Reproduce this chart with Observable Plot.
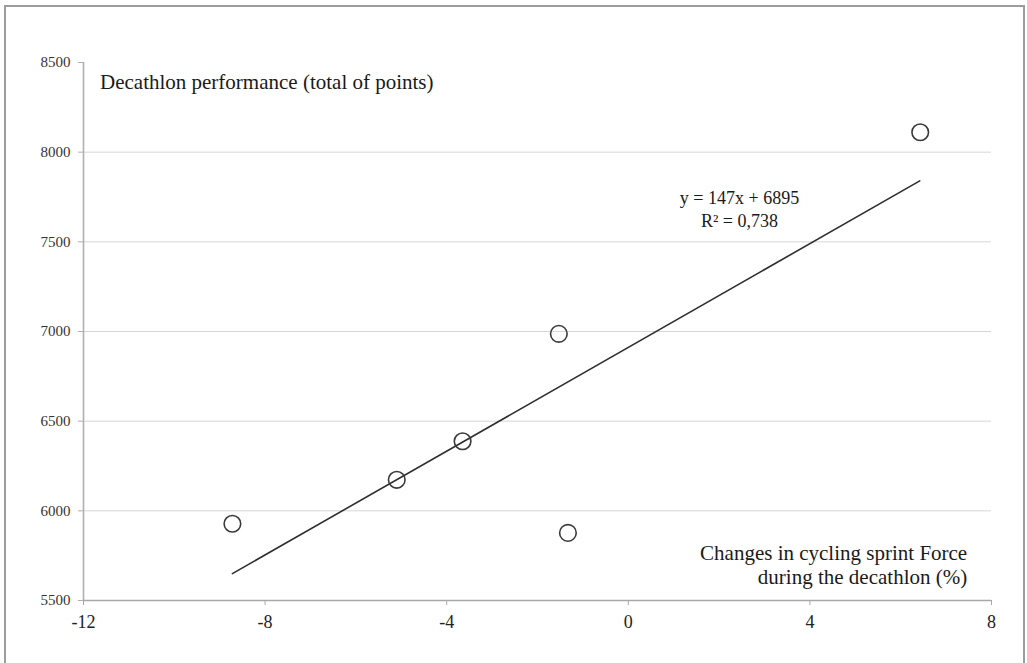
<!DOCTYPE html>
<html>
<head>
<meta charset="utf-8">
<script src="https://cdn.jsdelivr.net/npm/d3@7"></script>
<script src="https://cdn.jsdelivr.net/npm/@observablehq/plot@0.6"></script>
<style>
  html, body { margin: 0; padding: 0; background: #fff; overflow: hidden; width: 1027px; height: 663px; }
  #frame { position: absolute; left: 4px; top: 5px; width: 1021px; height: 700px; box-sizing: border-box; border: 2.5px solid #9c9c9c; }
  #chart { position: absolute; left: 0; top: 0; }
</style>
</head>
<body>
<div id="frame"></div>
<div id="chart"></div>
<script>
// Data
const changePct   = [-8.72, -5.10, -3.65, -1.53, -1.33, 6.43];
const decathlonPts = [5928, 6173, 6388, 6987, 5877, 8111];
// Trend line end points (as drawn)
const trendX = [-8.72, 6.42];
const trendY = [5650, 7840];
const xTicks = [-12, -8, -4, 0, 4, 8];
const yTicks = [5500, 6000, 6500, 7000, 7500, 8000, 8500];
const gridTicks = [6000, 6500, 7000, 7500, 8000];
const yTitle = "Decathlon performance (total of points)";
const xTitle = "Changes in cycling sprint Force\nduring the decathlon (%)";
const equation = "y = 147x + 6895\nR² = 0,738";

const points = changePct.map((x, i) => ({x, y: decathlonPts[i]}));
const trend = trendX.map((x, i) => ({x, y: trendY[i]}));

const serif = "'Liberation Serif', 'Times New Roman', serif";

const chart = Plot.plot({
  width: 1027,
  height: 663,
  marginLeft: 83,
  marginRight: 36,
  marginTop: 62,
  marginBottom: 63,
  style: { fontFamily: serif, background: "transparent" },
  x: { domain: [-12, 8] },
  y: { domain: [5500, 8500] },
  marks: [
    Plot.gridY(gridTicks, { stroke: "#d6d6d6", strokeOpacity: 1, strokeWidth: 1 }),
    Plot.ruleX([-12], { stroke: "#b0b0b0", strokeWidth: 1.6 }),
    Plot.ruleY([5500], { stroke: "#a8a8a8", strokeWidth: 1.6 }),
    Plot.axisY({
      ticks: yTicks, tickSize: 5, tickPadding: 8, label: null,
      stroke: "#b0b0b0", fill: "#333", fontSize: 15, fontFamily: serif,
      tickFormat: d => String(d)
    }),
    Plot.axisX({
      ticks: xTicks, tickSize: 5, tickPadding: 10, label: null,
      stroke: "#a8a8a8", fill: "#222", fontSize: 18, fontFamily: serif,
      tickFormat: d => d < 0 ? "-" + Math.abs(d) : String(d)
    }),
    Plot.line(trend, { x: "x", y: "y", stroke: "#2e2e2e", strokeWidth: 1.6 }),
    Plot.dot(points, { x: "x", y: "y", r: 8.3, stroke: "#3a3a3a", strokeWidth: 1.6, fill: "none" }),
    Plot.text([yTitle], {
      frameAnchor: "top-left", dx: 16.5, dy: 11.4, textAnchor: "start", lineAnchor: "top",
      fontSize: 21, fontFamily: serif, fill: "#1a1a1a"
    }),
    Plot.text([equation], {
      frameAnchor: "top-left", dx: 656, dy: 125.2, textAnchor: "middle", lineAnchor: "top",
      lineHeight: 1.28, fontSize: 18, fontFamily: serif, fill: "#1a1a1a"
    }),
    Plot.text([xTitle], {
      frameAnchor: "top-right", dx: -24.3, dy: 481.4, textAnchor: "end", lineAnchor: "top",
      lineHeight: 1.11, fontSize: 21, fontFamily: serif, fill: "#1a1a1a"
    })
  ]
});
document.getElementById("chart").appendChild(chart);

// Make sure tick labels use the serif face at the intended size
const svg = d3.select(chart);
svg.selectAll("g").each(function () {
  const label = this.getAttribute("aria-label") || "";
  if (label.includes("y-axis") && label.includes("label")) {
    d3.select(this).style("font-size", "15px").style("font-family", serif)
      .selectAll("text").style("font-size", "15px").style("font-family", serif);
  } else if (label.includes("x-axis") && label.includes("label")) {
    d3.select(this).style("font-size", "18px").style("font-family", serif)
      .selectAll("text").style("font-size", "18px").style("font-family", serif);
  }
});
</script>
</body>
</html>
